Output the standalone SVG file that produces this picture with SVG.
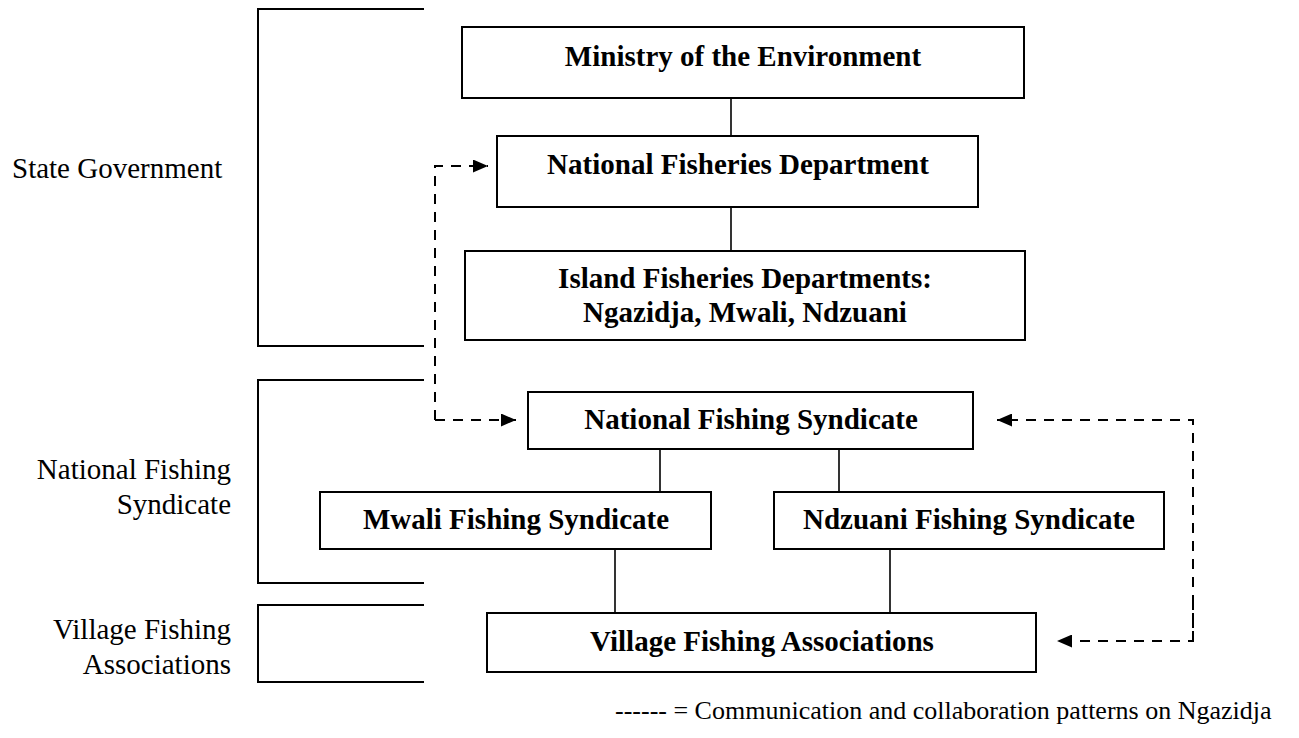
<svg xmlns="http://www.w3.org/2000/svg" width="1299" height="738" viewBox="0 0 1299 738">
  <style>
    .box { fill: #fff; stroke: #000; stroke-width: 2; }
    .bracket { fill: none; stroke: #000; stroke-width: 2; }
    .link { stroke: #000; stroke-width: 1.6; fill: none; }
    .dash { stroke: #000; stroke-width: 2; fill: none; stroke-dasharray: 10 8; }
    .t { font-family: "Liberation Serif", "Times New Roman", serif; font-size: 29px; fill: #000; }
    .b { font-weight: bold; text-anchor: middle; }
    .r { text-anchor: end; }
    .legend { font-size: 26px; }
  </style>
  <defs>
    <marker id="arrow" markerWidth="15" markerHeight="13" refX="15" refY="6.5" orient="auto" markerUnits="userSpaceOnUse" viewBox="0 0 15 13">
      <path d="M0,0 L15,6.5 L0,13 Z" fill="#000"/>
    </marker>
  </defs>

  <rect width="1299" height="738" fill="#fff"/>

  <!-- level brackets with their labels -->
  <g id="level-state">
    <path class="bracket" d="M424,9 H258 V346 H424"/>
    <text class="t" x="12" y="178">State Government</text>
  </g>
  <g id="level-syndicate">
    <path class="bracket" d="M424,380 H258 V583 H424"/>
    <text class="t r" x="231" y="479">National Fishing</text>
    <text class="t r" x="231" y="514">Syndicate</text>
  </g>
  <g id="level-village">
    <path class="bracket" d="M424,605 H258 V682 H424"/>
    <text class="t r" x="231" y="639">Village Fishing</text>
    <text class="t r" x="231" y="674">Associations</text>
  </g>

  <!-- hierarchy links and dashed communication arrows -->
  <g id="connectors">
    <line class="link" x1="731" y1="98" x2="731" y2="136"/>
    <line class="link" x1="731" y1="207" x2="731" y2="251"/>
    <line class="link" x1="660" y1="449" x2="660" y2="492"/>
    <line class="link" x1="839" y1="449" x2="839" y2="492"/>
    <line class="link" x1="615" y1="549" x2="615" y2="613"/>
    <line class="link" x1="890" y1="549" x2="890" y2="613"/>
    <path class="dash" d="M435,420 V166 H488" marker-end="url(#arrow)"/>
    <path class="dash" d="M435,420 H516" marker-end="url(#arrow)"/>
    <path class="dash" d="M1193,641 V420 H997" marker-end="url(#arrow)"/>
    <path class="dash" d="M1193,600 V641 H1057" marker-end="url(#arrow)"/>
  </g>

  <g id="ministry">
    <rect class="box" x="462" y="27" width="562" height="71"/>
    <text class="t b" x="743" y="66">Ministry of the Environment</text>
  </g>
  <g id="national-fisheries">
    <rect class="box" x="497" y="136" width="481" height="71"/>
    <text class="t b" x="738" y="174">National Fisheries Department</text>
  </g>
  <g id="island-fisheries">
    <rect class="box" x="465" y="251" width="560" height="89"/>
    <text class="t b" x="745" y="288">Island Fisheries Departments:</text>
    <text class="t b" x="745" y="322">Ngazidja, Mwali, Ndzuani</text>
  </g>
  <g id="national-syndicate">
    <rect class="box" x="528" y="392" width="445" height="57"/>
    <text class="t b" x="751" y="429">National Fishing Syndicate</text>
  </g>
  <g id="mwali-syndicate">
    <rect class="box" x="320" y="492" width="391" height="57"/>
    <text class="t b" x="516" y="529">Mwali Fishing Syndicate</text>
  </g>
  <g id="ndzuani-syndicate">
    <rect class="box" x="774" y="492" width="390" height="57"/>
    <text class="t b" x="969" y="529">Ndzuani Fishing Syndicate</text>
  </g>
  <g id="village-associations">
    <rect class="box" x="487" y="613" width="549" height="59"/>
    <text class="t b" x="762" y="651">Village Fishing Associations</text>
  </g>

  <g id="legend">
    <text class="t legend" x="615" y="719">------ = Communication and collaboration patterns on Ngazidja</text>
  </g>
</svg>
